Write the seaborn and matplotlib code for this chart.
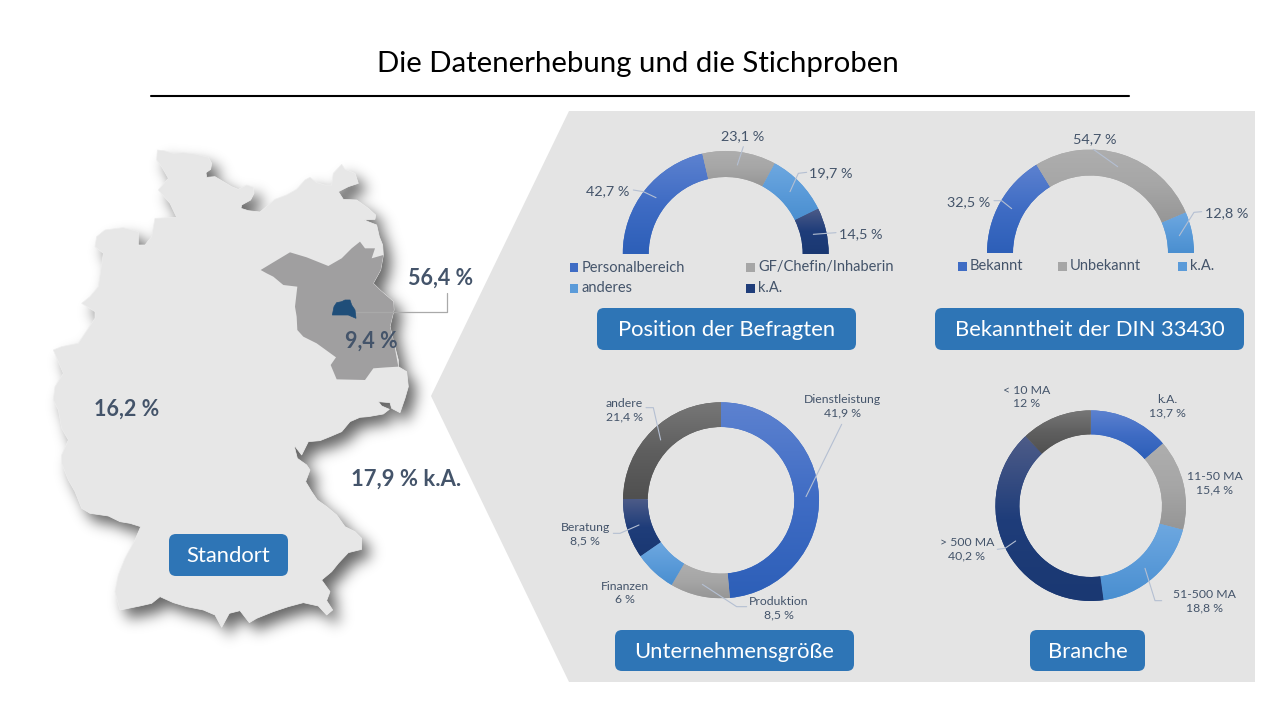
import numpy as np
import seaborn as sns
import matplotlib
matplotlib.use('Agg')
import matplotlib.pyplot as plt
from matplotlib.patches import FancyBboxPatch, Polygon, Rectangle

# chart values
pos_labels = ['Personalbereich', 'GF/Chefin/Inhaberin', 'anderes', 'k.A.']
pos_values = [42.7, 23.1, 19.7, 14.5]
din_labels = ['Bekannt', 'Unbekannt', 'k.A.']
din_values = [32.5, 54.7, 12.8]
size_labels = ['Dienstleistung', 'Produktion', 'Finanzen', 'Beratung', 'andere']
size_values = [41.9, 8.5, 6, 8.5, 21.4]
branch_labels = ['k.A.', '11-50 MA', '51-500 MA', '> 500 MA', '< 10 MA']
branch_values = [13.7, 15.4, 18.8, 40.2, 12]
region_texts = ['56,4 %', '9,4 %', '16,2 %', '17,9 % k.A.']

# gradients top -> bottom
BLUE = ['#5d82d0', '#3f6cc4', '#2d5fb8']
GRAY = ['#aeaeae', '#a6a6a6', '#969696']
LIGHT = ['#6ea8e0', '#5b9bd9', '#4a8fd0']
NAVY = ['#4e5c88', '#1f3d7a', '#1a3872']
DARK = ['#777777', '#5f5f5f', '#505050']

TEXT = '#44546a'
LEAD = '#b4bfd2'
BOX = '#2e75b6'

germany = [(352, 60), (372, 62), (400, 70), (430, 68), (465, 72), (505, 82), (515, 100), (512, 118), (498, 128), (500, 142),
           (525, 140), (545, 152), (575, 170), (595, 178), (620, 165), (640, 172), (642, 190), (632, 210), (605, 225), (603, 235),
           (625, 242), (660, 246), (685, 225), (705, 208), (740, 195), (770, 178), (795, 150), (810, 142), (830, 158), (855, 165),
           (875, 165), (880, 130), (905, 103), (915, 118), (945, 130), (955, 160), (925, 170), (895, 185), (910, 208), (950, 210),
           (985, 235), (1007, 255), (1005, 268), (972, 270), (1010, 285), (1018, 320), (1028, 345), (1030, 375), (1022, 420), (1000, 460),
           (1020, 480), (1060, 515), (1062, 540), (1050, 590), (1062, 640), (1075, 690), (1075, 710), (1100, 725), (1105, 770), (1095, 805),
           (1080, 848), (1055, 835), (1050, 818), (1015, 815), (1025, 828), (1048, 838), (1030, 852), (985, 860), (960, 862), (930, 875),
           (905, 905), (870, 920), (840, 932), (805, 935), (785, 975), (762, 945), (772, 985), (800, 1005), (810, 1020), (797, 1055),
           (815, 1085), (832, 1110), (860, 1130), (890, 1155), (915, 1190), (945, 1205), (965, 1225), (965, 1258), (925, 1268), (895, 1300),
           (875, 1325), (845, 1350), (870, 1385), (860, 1412), (878, 1440), (860, 1455), (835, 1428), (790, 1418), (745, 1430), (700, 1445),
           (650, 1465), (628, 1478), (600, 1442), (568, 1450), (545, 1492), (525, 1455), (490, 1440), (440, 1430), (400, 1418), (360, 1400),
           (335, 1420), (300, 1428), (240, 1440), (225, 1385), (235, 1335), (255, 1285), (285, 1230), (302, 1190), (270, 1180), (240, 1175),
           (205, 1158), (150, 1150), (125, 1135), (105, 1085), (85, 1050), (65, 1000), (65, 975), (85, 930), (65, 895), (55, 840),
           (40, 810), (45, 770), (70, 730), (55, 695), (40, 660), (65, 650), (115, 640), (135, 610), (165, 565), (165, 545),
           (125, 520), (150, 500), (175, 470), (190, 370), (165, 350), (170, 320), (195, 300), (250, 293), (295, 305), (295, 345),
           (315, 345), (335, 320), (345, 265), (410, 262), (390, 220), (355, 180), (385, 145), (365, 110), (350, 90)]
brandenburg = [(662, 420), (695, 400), (750, 367), (800, 382), (865, 408), (905, 385), (935, 355), (960, 335), (975, 355), (1005, 355),
               (995, 385), (1030, 375), (1022, 420), (1000, 460), (1020, 480), (1060, 515), (1062, 540), (1050, 590), (1062, 640), (1075, 710),
               (1040, 712), (1000, 715), (975, 750), (890, 748), (872, 705), (888, 682), (830, 640), (790, 620), (772, 600), (770, 560),
               (765, 530), (772, 470), (730, 465), (700, 440), (680, 430)]
berlin = [(877, 555), (882, 530), (890, 518), (905, 515), (915, 510), (930, 510), (935, 525), (945, 540), (948, 565), (925, 555), (900, 555)]

sns.set_theme(style='white')
plt.rcParams['font.family'] = ['Lato', 'DejaVu Sans']

W, H = 1280, 720
fig = plt.figure(figsize=(12.8, 7.2), dpi=100, facecolor='white')


def pixel_axes(f, z):
    a = f.add_axes([0, 0, 1, 1], zorder=z)
    a.set_xlim(0, W)
    a.set_ylim(H, 0)
    a.axis('off')
    a.patch.set_alpha(0)
    return a


def crop_to_px(pts):
    return np.array(pts) / 3 + [40, 130]


def soft_shadow(pts, dx, dy, sigma, peak):
    # rasterise the outline, blur it with a gaussian in fourier space
    mfig = plt.figure(figsize=(12.8, 7.2), dpi=100, facecolor='white')
    m = pixel_axes(mfig, 0)
    m.add_patch(Polygon(pts + [dx, dy], fc='black', ec='none'))
    mfig.canvas.draw()
    mask = 1 - np.asarray(mfig.canvas.buffer_rgba())[:, :, 0] / 255
    plt.close(mfig)
    fy = np.fft.fftfreq(mask.shape[0])[:, None]
    fx = np.fft.rfftfreq(mask.shape[1])[None, :]
    blur = np.fft.irfft2(np.fft.rfft2(mask) * np.exp(-2 * (np.pi * sigma) ** 2 * (fx ** 2 + fy ** 2)), s=mask.shape)
    rgba = np.zeros(mask.shape + (4,))
    rgba[:, :, 3] = np.clip(blur, 0, 1) * peak
    return rgba


def donut(cx, cy, r, inner, values, colors, half=False):
    a = fig.add_axes([(cx - r) / W, 1 - (cy + r) / H, 2 * r / W, 2 * r / H], zorder=1)
    vals = list(values) + ([sum(values)] if half else [])
    start = 180 if half else 90
    wedges, _ = a.pie(vals, startangle=start, counterclock=False, radius=1,
                      colors=[c[1] for c in colors] + (['white'] if half else []),
                      wedgeprops=dict(width=(r - inner) / r, linewidth=0))
    if half:
        wedges[-1].set_visible(False)
    for w, c in zip(wedges, colors):
        # slice gets its own vertical gradient
        ext = w.get_path().get_extents()
        cmap = sns.blend_palette(c, n_colors=64, as_cmap=True)
        im = a.imshow(np.linspace(0, 1, 128).reshape(-1, 1), cmap=cmap, aspect='auto',
                      extent=[ext.x0, ext.x1, ext.y0, ext.y1], origin='upper', zorder=2)
        im.set_clip_path(w)
    a.set_xlim(-1, 1)
    a.set_ylim(-1, 1)
    a.set_aspect('equal')
    a.axis('off')
    return a


def button(x0, x1, y0, y1, label):
    back.add_patch(FancyBboxPatch((x0 + 6, y0 + 6), x1 - x0 - 12, y1 - y0 - 12,
                                  boxstyle='round,pad=6,rounding_size=7', fc=BOX, ec='none', zorder=3))
    back.text((x0 + x1) / 2, (y0 + y1) / 2 + 1, label, color='white', fontsize=BTN_SIZE, ha='center', va='center', zorder=4)


back = pixel_axes(fig, 0)
top = pixel_axes(fig, 2)
BTN_SIZE = 15.8

# title + rule
back.text(638, 64, 'Die Datenerhebung und die Stichproben', fontsize=21.2, color='black', ha='center', va='center')
back.plot([151, 1129], [96, 96], color='black', lw=1.5)

# grey arrow panel
back.add_patch(Polygon([(569, 111), (1255, 111), (1255, 682), (569, 682), (431, 396)], fc='#e4e4e4', ec='none'))

# map with soft drop shadow
gxy = crop_to_px(germany)
back.imshow(soft_shadow(gxy, 8, 9, 7, 0.6), extent=[0, W, H, 0], aspect='auto', zorder=1)
back.set_xlim(0, W)
back.set_ylim(H, 0)
back.add_patch(Polygon(gxy, fc='#e7e7e7', ec='#eeeeee', lw=0.5, zorder=2))
back.add_patch(Polygon(crop_to_px(brandenburg), fc='#a09fa0', ec='none', zorder=2))
back.add_patch(Polygon(crop_to_px(berlin), fc='#1f4e79', ec='#1f4e79', lw=0.5, zorder=2))

# standort labels
back.plot([356, 447, 447], [312, 312, 293], color='#a9a9a9', lw=0.9, zorder=3)
for (x, y), t, s in zip([(441, 278), (371, 341), (127, 409), (406, 479)], region_texts, [15.5, 15.5, 15.5, 15.8]):
    back.text(x, y, t, color=TEXT, fontsize=s, fontweight='bold', ha='center', va='center', zorder=4)

button(169, 288, 534, 576, 'Standort')
button(597, 856, 308, 350, 'Position der Befragten')
button(935, 1244, 308, 350, 'Bekanntheit der DIN 33430')
button(615, 854, 630, 671, 'Unternehmensgröße')
button(1030, 1145, 630, 671, 'Branche')

# donuts
donut(725.7, 254, 103, 77, pos_values, [BLUE, GRAY, LIGHT, NAVY], half=True)
donut(1090.5, 253, 103.5, 77.5, din_values, [BLUE, GRAY, LIGHT], half=True)
donut(721, 500.3, 98, 73.3, size_values, [BLUE, GRAY, LIGHT, NAVY, DARK])
donut(1090.7, 505.7, 95.3, 71.3, branch_values, [BLUE, GRAY, LIGHT, NAVY, DARK])


def pct(v):
    return f'{v:g} %'.replace('.', ',')


# half donut labels
for v, (x, y) in zip(pos_values, [(608, 191), (743, 136), (831, 173), (861, 234)]):
    top.text(x, y, pct(v), color=TEXT, fontsize=10.4, ha='center', va='center')
for v, (x, y) in zip(din_values, [(969, 202), (1095, 139), (1227, 213)]):
    top.text(x, y, pct(v), color=TEXT, fontsize=10.4, ha='center', va='center')

# full donut labels
for n, v, (x, y) in zip(size_labels, size_values, [(842, 406), (779, 608), (625, 593), (585, 534), (624, 410)]):
    top.text(x, y, f'{n}\n{pct(v)}', color=TEXT, fontsize=8.8, ha='center', va='center', linespacing=1.3)
for n, v, (x, y) in zip(branch_labels, branch_values, [(1167, 406), (1215, 483), (1204, 601), (967, 549), (1027, 397)]):
    top.text(x, y, f'{n}\n{pct(v)}', color=TEXT, fontsize=8.8, ha='center', va='center', linespacing=1.3)

# leader lines, crop origin first
leaders = [
    (550, 110, [(250, 240), (280, 245), (318, 263)]),
    (550, 110, [(580, 110), (562, 165)]),
    (550, 110, [(770, 187), (745, 190), (720, 245)]),
    (550, 110, [(858, 368), (790, 373)]),
    (920, 110, [(222, 272), (245, 272), (275, 296)]),
    (920, 110, [(520, 118), (593, 170)]),
    (920, 110, [(845, 305), (822, 307), (778, 377)]),
    (550, 375, [(875, 148), (768, 365)]),
    (550, 375, [(590, 695), (560, 695), (457, 628)]),
    (550, 375, [(190, 475), (210, 475), (267, 450)]),
    (550, 375, [(288, 98), (310, 98), (332, 195)]),
    (910, 375, [(755, 677), (735, 677), (705, 580)]),
    (910, 375, [(262, 523), (285, 520), (317, 498)]),
]
for ox, oy, pts in leaders:
    p = np.array(pts) / 3 + [ox, oy]
    top.plot(p[:, 0], p[:, 1], color=LEAD, lw=0.8)


# legends
def legend_item(x, y, c, label):
    back.add_patch(Rectangle((x, y - 4.5), 8.5, 9, fc=c[1], ec='none'))
    back.text(x + 12, y + 0.5, label, color=TEXT, fontsize=10.5, ha='left', va='center')


for (x, y), c, t in zip([(569.5, 267), (746, 267), (569.5, 288), (746, 288)], [BLUE, GRAY, LIGHT, NAVY], pos_labels):
    legend_item(x, y, c, t)
for (x, y), c, t in zip([(958, 266), (1058, 266), (1178, 266)], [BLUE, GRAY, LIGHT], din_labels):
    legend_item(x, y, c, t)

fig.savefig('out.png', dpi=100)
